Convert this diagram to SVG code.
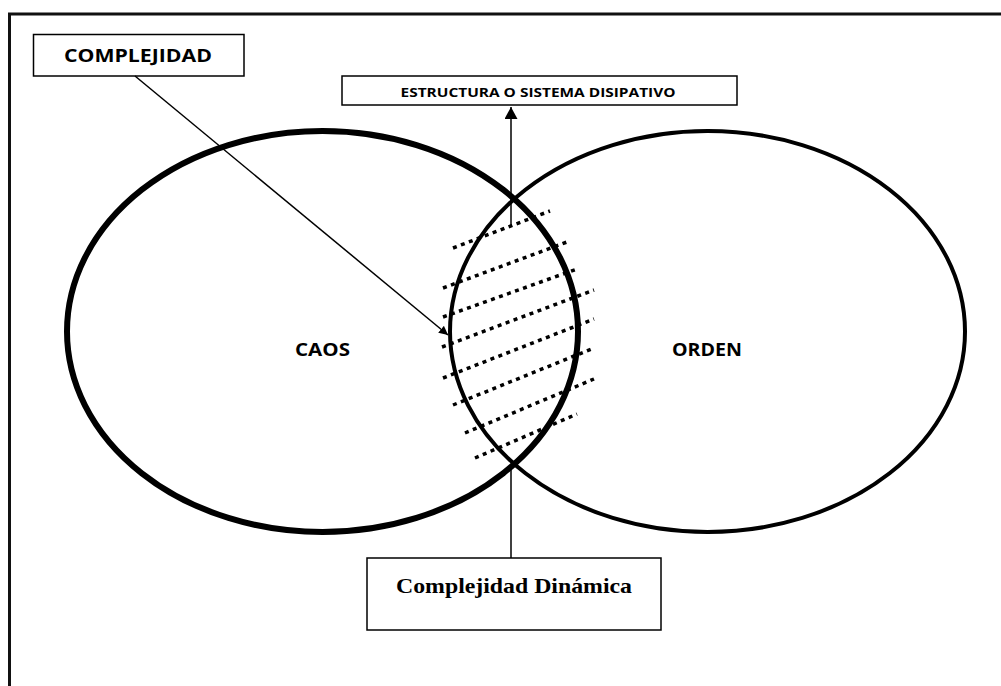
<svg xmlns="http://www.w3.org/2000/svg" width="1001" height="686" viewBox="0 0 1001 686">
  <style>
    .box { fill: #fff; stroke: #000; stroke-width: 1.5; }
    .sans { font-family: "Open Sans", "Liberation Sans", sans-serif; font-weight: 700; fill: #000; }
    .serif { font-family: "Liberation Serif", "Times New Roman", serif; font-weight: 700; fill: #000; }
    .link { stroke: #000; stroke-width: 1.5; fill: none; }
    .hatch { stroke: #000; stroke-width: 3.5; stroke-dasharray: 4 4.5; fill: none; }
  </style>
  <defs>
    <marker id="head" viewBox="0 0 10 10" refX="10" refY="5" markerWidth="9" markerHeight="9" markerUnits="userSpaceOnUse" orient="auto">
      <path d="M0,0 L10,5 L0,10 Z" fill="#000"/>
    </marker>
    <marker id="headUp" viewBox="0 0 10 10" refX="10" refY="5" markerWidth="12" markerHeight="13" markerUnits="userSpaceOnUse" orient="auto" preserveAspectRatio="none">
      <path d="M0,0 L10,5 L0,10 Z" fill="#000"/>
    </marker>
  </defs>

  <rect width="1001" height="686" fill="#fff"/>

  <!-- outer frame (runs off the right and bottom edges) -->
  <rect x="9.5" y="14" width="1010" height="700" fill="none" stroke="#111" stroke-width="3"/>

  <!-- hatching over the overlap region -->
  <g id="hatching">
    <line class="hatch" x1="453" y1="248" x2="550" y2="211"/>
    <line class="hatch" x1="443" y1="288" x2="567" y2="242"/>
    <line class="hatch" x1="443" y1="317" x2="577" y2="269"/>
    <line class="hatch" x1="442" y1="347" x2="594" y2="290"/>
    <line class="hatch" x1="443" y1="378" x2="594" y2="319"/>
    <line class="hatch" x1="453" y1="405" x2="594" y2="348"/>
    <line class="hatch" x1="465" y1="433" x2="594" y2="379"/>
    <line class="hatch" x1="475" y1="458" x2="577" y2="414"/>
  </g>

  <g id="caos">
    <ellipse cx="322.5" cy="331.5" rx="255.5" ry="200.5" fill="none" stroke="#000" stroke-width="6"/>
    <text class="sans" x="322.5" y="356" font-size="17" text-anchor="middle" textLength="55" lengthAdjust="spacingAndGlyphs">CAOS</text>
  </g>

  <g id="orden">
    <ellipse cx="707.5" cy="331.5" rx="257.5" ry="200.5" fill="none" stroke="#000" stroke-width="4"/>
    <text class="sans" x="707" y="356" font-size="17" text-anchor="middle" textLength="70" lengthAdjust="spacingAndGlyphs">ORDEN</text>
  </g>

  <g id="complejidad">
    <rect class="box" x="33.5" y="34.5" width="210.5" height="41.5"/>
    <text class="sans" x="138" y="62" font-size="17" text-anchor="middle" textLength="148" lengthAdjust="spacingAndGlyphs">COMPLEJIDAD</text>
  </g>

  <g id="estructura">
    <rect class="box" x="342" y="76" width="395" height="29"/>
    <text class="sans" x="538" y="97" font-size="12" text-anchor="middle" textLength="275" lengthAdjust="spacingAndGlyphs">ESTRUCTURA O SISTEMA DISIPATIVO</text>
  </g>

  <g id="complejidad-dinamica">
    <rect class="box" x="367" y="558" width="294" height="72"/>
    <text class="serif" x="514" y="593" font-size="22" text-anchor="middle" textLength="236" lengthAdjust="spacingAndGlyphs">Complejidad Dinámica</text>
  </g>

  <g id="connectors">
    <line class="link" x1="135" y1="76" x2="448" y2="335" marker-end="url(#head)"/>
    <line class="link" x1="511" y1="227" x2="511" y2="107" marker-end="url(#headUp)"/>
    <line class="link" x1="511" y1="465" x2="511" y2="558"/>
  </g>
</svg>
